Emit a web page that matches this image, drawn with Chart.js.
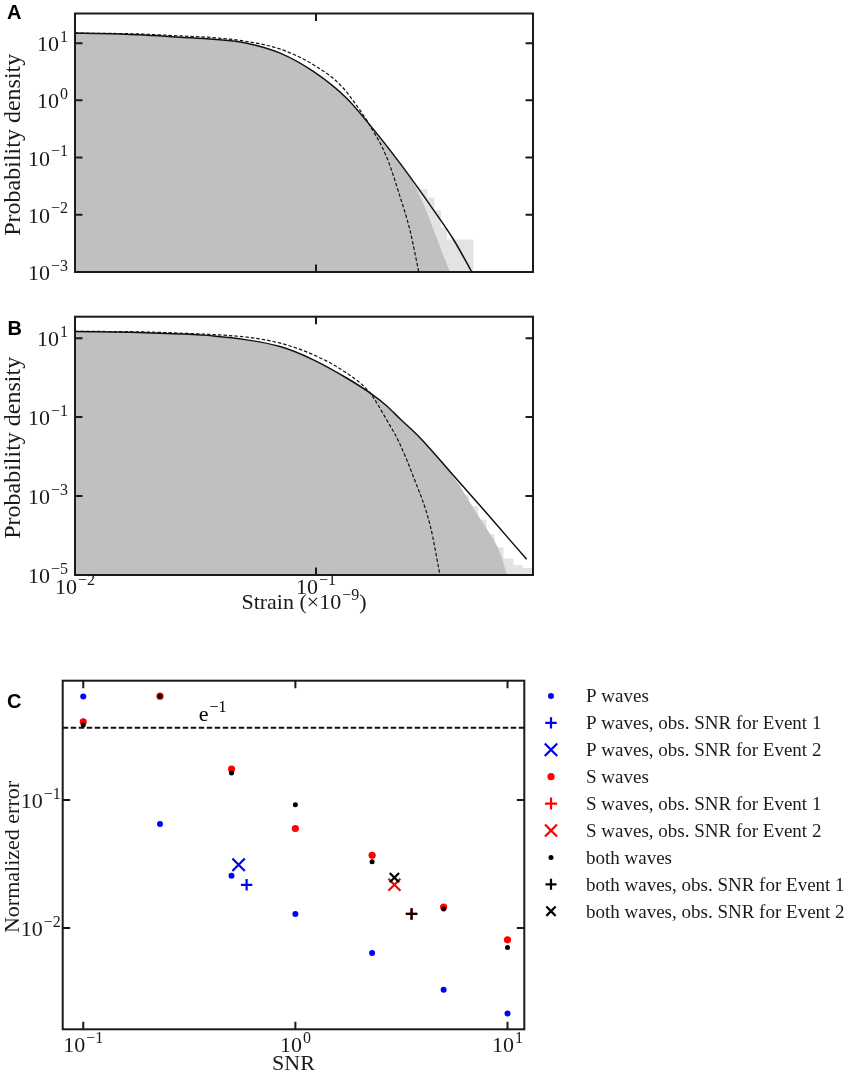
<!DOCTYPE html>
<html>
<head>
<meta charset="utf-8">
<title>Strain densities and normalized error</title>
<script src="https://cdn.jsdelivr.net/npm/chart.js@4/dist/chart.umd.min.js"></script>
<style>
  body { margin: 0; background: #fff; width: 851px; height: 1073px; position: relative; overflow: hidden; }
  canvas { position: absolute; left: 0; }
  #chartA { top: 0; }
  #chartB { top: 300px; }
  #chartC { top: 640px; }
</style>
</head>
<body>
<canvas id="chartA" width="560" height="300" style="width:560px;height:300px"></canvas>
<canvas id="chartB" width="560" height="340" style="width:560px;height:340px"></canvas>
<canvas id="chartC" width="851" height="433" style="width:851px;height:433px"></canvas>
<script>
// ---- panel A : histogram + fits ----
const histA_x  = [0.01, 0.0182, 0.0273, 0.0375, 0.0516, 0.071, 0.0975, 0.134, 0.165, 0.20, 0.223, 0.25, 0.28, 0.31, 0.34, 0.36];
const histA_y  = [15, 14, 12.6, 11.6, 9.9, 6.6, 3.15, 1.07, 0.39, 0.15, 0.08, 0.04, 0.015, 0.005, 0.0018, 0.001];
const tailA_x  = [0.17, 0.19, 0.21, 0.23, 0.25, 0.27, 0.29, 0.31, 0.33, 0.35, 0.37, 0.41, 0.45, 0.47];
const tailA_y  = [0.3, 0.17, 0.1, 0.06, 0.045, 0.032, 0.028, 0.02, 0.012, 0.006, 0.0037, 0.0037, 0.0037, 0.001];
const solidA_x = [0.01, 0.0182, 0.0273, 0.0375, 0.0516, 0.071, 0.0975, 0.134, 0.165, 0.223, 0.307, 0.372, 0.443];
const solidA_y = [15, 14, 12.7, 11.7, 10, 6.7, 3.2, 1.09, 0.40, 0.08, 0.0122, 0.0037, 0.001];
const dashA_x  = [0.01, 0.0182, 0.0273, 0.0375, 0.0516, 0.071, 0.0975, 0.126, 0.152, 0.165, 0.196, 0.223, 0.245, 0.267];
const dashA_y  = [15, 14.5, 13.4, 12.5, 10.7, 7.9, 4.2, 1.87, 0.68, 0.40, 0.104, 0.021, 0.0055, 0.001];
const yExpA = [1, 0, -1, -2, -3];

// ---- panel B ----
const histB_x  = [0.01, 0.0273, 0.0516, 0.071, 0.0975, 0.134, 0.1675, 0.195, 0.223, 0.27, 0.372, 0.45, 0.51, 0.58, 0.62];
const histB_y  = [14.5, 12.6, 8.9, 6.0, 2.78, 0.96, 0.40, 0.19, 0.088, 0.029, 0.0031, 5e-4, 1.5e-4, 3.7e-5, 1e-5];
const tailB_x  = [0.37, 0.40, 0.43, 0.47, 0.51, 0.55, 0.60, 0.66, 0.72, 0.79, 0.795];
const tailB_y  = [0.0031, 0.002, 0.0011, 5.5e-4, 2.5e-4, 1.1e-4, 5e-5, 2.6e-5, 1.8e-5, 1.5e-5, 1.5e-5];
const solidB_x = [0.01, 0.0182, 0.0273, 0.0375, 0.0516, 0.071, 0.0975, 0.134, 0.1675, 0.195, 0.223, 0.27, 0.372, 0.51, 0.748];
const solidB_y = [14.7, 14, 12.8, 11.4, 9.06, 6.13, 2.83, 0.98, 0.41, 0.20, 0.091, 0.030, 0.0033, 3.7e-4, 2.5e-5];
const dashB_x  = [0.01, 0.0182, 0.0273, 0.0375, 0.0516, 0.071, 0.0975, 0.134, 0.1675, 0.196, 0.220, 0.253, 0.298, 0.327];
const dashB_y  = [14.9, 14.5, 13.4, 12.3, 10.6, 7.5, 3.8, 1.31, 0.41, 0.087, 0.0245, 0.0032, 1.75e-4, 1e-5];
const yExpB = [1, -1, -3, -5];
const strainExp = [-2, -1];

// ---- panel C : normalized error vs SNR ----
const snr      = [0.1, 0.23, 0.5, 1, 2.3, 5, 10];
const pErr     = [0.644, 0.065, 0.0257, 0.0129, 0.0064, 0.0033, 0.00215];
const sErr     = [0.409, 0.649, 0.175, 0.060, 0.0371, 0.0146, 0.0081];
const bothErr  = [0.387, 0.649, 0.163, 0.092, 0.033, 0.0141, 0.00705];
const pEvent1  = [0.589, 0.0218];
const pEvent2  = [0.54, 0.0313];
const sEvent1  = [3.53, 0.0129];
const sEvent2  = [2.93, 0.0218];
const bothEvent1 = [3.53, 0.0129];
const bothEvent2 = [2.93, 0.0248];
const eInv = 0.368;
const snrExp = [-1, 0, 1];
const errExp = [-1, -2];
const snrMin = 0.08, snrMax = 12.0;

const SERIF = '"Liberation Serif", "DejaVu Serif", serif';
const INK = '#1a1a1a';

function pts(xs, ys) { return xs.map((x, i) => ({ x: x, y: ys[i] })); }

// parts alternate normal / superscript
function drawRich(ctx, parts, x, y, size, align) {
  const supSize = Math.round(size * 0.72);
  const widths = parts.map((t, i) => {
    ctx.font = (i % 2 ? supSize : size) + 'px ' + SERIF;
    return ctx.measureText(t).width + (i % 2 ? 1 : 0);
  });
  const total = widths.reduce((s, w) => s + w, 0);
  let cx = align === 'center' ? x - total / 2 : align === 'right' ? x - total : x;
  ctx.textAlign = 'left';
  parts.forEach((t, i) => {
    ctx.font = (i % 2 ? supSize : size) + 'px ' + SERIF;
    ctx.fillText(t, cx + (i % 2 ? 1 : 0), i % 2 ? y - size * 0.43 : y);
    cx += widths[i];
  });
}
function pow10(e) { return ['10', e < 0 ? '\u2212' + (-e) : String(e)]; }

// box, inward ticks, tex-like labels
const texFrame = {
  id: 'texFrame',
  afterDraw(chart, args, o) {
    const ctx = chart.ctx, a = chart.chartArea;
    const sx = chart.scales.x, sy = chart.scales.y;
    ctx.save();
    ctx.strokeStyle = INK;
    ctx.fillStyle = INK;
    ctx.lineWidth = 2;
    ctx.strokeRect(a.left, a.top, a.right - a.left, a.bottom - a.top);
    ctx.beginPath();
    o.xExp.forEach(e => {
      const px = sx.getPixelForValue(Math.pow(10, e));
      ctx.moveTo(px, a.bottom); ctx.lineTo(px, a.bottom - 7.5);
      ctx.moveTo(px, a.top); ctx.lineTo(px, a.top + 7.5);
    });
    o.yExp.forEach(e => {
      const py = sy.getPixelForValue(Math.pow(10, e));
      ctx.moveTo(a.left, py); ctx.lineTo(a.left + 7.5, py);
      ctx.moveTo(a.right, py); ctx.lineTo(a.right - 7.5, py);
    });
    ctx.stroke();
    ctx.textBaseline = 'alphabetic';
    if (o.xLabels) {
      o.xExp.forEach(e => drawRich(ctx, pow10(e), sx.getPixelForValue(Math.pow(10, e)), a.bottom + o.xLabelDy, 22, 'center'));
    }
    o.yExp.forEach(e => drawRich(ctx, pow10(e), a.left - o.yGap, sy.getPixelForValue(Math.pow(10, e)) + 8, 22, 'right'));
    if (o.xTitle) drawRich(ctx, o.xTitle, (a.left + a.right) / 2, a.bottom + o.xTitleDy, 22, 'center');
    ctx.save();
    ctx.translate(o.yTitleX, (a.top + a.bottom) / 2 + 2);
    ctx.rotate(-Math.PI / 2);
    drawRich(ctx, [o.yTitle], 0, 0, o.yTitleSize, 'center');
    ctx.restore();
    ctx.fillStyle = '#000';
    ctx.textAlign = 'left';
    ctx.font = 'bold 20px "Liberation Sans", Arial, sans-serif';
    ctx.fillText(o.letter, o.letterX, o.letterY);
    if (o.note) {
      drawRich(ctx, o.note.parts, sx.getPixelForValue(o.note.x), sy.getPixelForValue(o.note.y) - 6.5, 22, 'left');
    }
    ctx.restore();
  }
};

// legend to the right of panel C
const sideLegend = {
  id: 'sideLegend',
  afterDraw(chart, args, o) {
    const ctx = chart.ctx;
    ctx.save();
    let row = 0;
    chart.data.datasets.forEach(ds => {
      if (!ds.label) return;
      const y = o.y0 + row * o.step;
      ctx.fillStyle = ds.pointBackgroundColor;
      ctx.strokeStyle = ds.pointBorderColor;
      ctx.lineWidth = ds.pointBorderWidth;
      Chart.helpers.drawPoint(ctx, {
        pointStyle: ds.pointStyle, radius: ds.pointRadius,
        borderWidth: ds.pointBorderWidth, rotation: 0
      }, o.x, y);
      ctx.fillStyle = INK;
      ctx.font = '19px ' + SERIF;
      ctx.textAlign = 'left';
      ctx.textBaseline = 'alphabetic';
      ctx.fillText(ds.label, o.textX, y + 6.3);
      row++;
    });
    ctx.restore();
  }
};

function densityChart(id, hist, tail, solid, dash, yMin, yMax, pad, frame) {
  return new Chart(document.getElementById(id), {
    type: 'line',
    data: {
      datasets: [
        { data: dash, borderColor: '#111', borderWidth: 1.2, borderDash: [3.5, 2], pointRadius: 0,
          fill: false, cubicInterpolationMode: 'monotone', order: 0 },
        { data: solid, borderColor: '#111', borderWidth: 1.5, pointRadius: 0,
          fill: false, cubicInterpolationMode: 'monotone', order: 1 },
        { data: hist, borderWidth: 0, pointRadius: 0, backgroundColor: '#c0c0c0',
          fill: 'start', cubicInterpolationMode: 'monotone', order: 2 },
        { data: tail, borderWidth: 0, pointRadius: 0, backgroundColor: 'rgba(192,192,192,0.45)',
          fill: 'start', stepped: 'after', order: 3 }
      ]
    },
    options: {
      responsive: false,
      animation: false,
      events: [],
      layout: { padding: pad },
      scales: {
        x: { type: 'logarithmic', min: 0.01, max: 0.795, display: false },
        y: { type: 'logarithmic', min: yMin, max: yMax, display: false }
      },
      plugins: { legend: { display: false }, tooltip: { enabled: false }, texFrame: frame }
    },
    plugins: [texFrame]
  });
}

densityChart('chartA',
  pts(histA_x, histA_y), pts(tailA_x, tailA_y), pts(solidA_x, solidA_y), pts(dashA_x, dashA_y),
  0.001, 33, { left: 75, right: 27, top: 13.5, bottom: 28 },
  { xExp: strainExp, yExp: yExpA, xLabels: false, yGap: 7, yTitle: 'Probability density',
    yTitleSize: 24, yTitleX: 19.5, letter: 'A', letterX: 7, letterY: 18.5 });

densityChart('chartB',
  pts(histB_x, histB_y), pts(tailB_x, tailB_y), pts(solidB_x, solidB_y), pts(dashB_x, dashB_y),
  1e-5, 35, { left: 75, right: 27, top: 16.7, bottom: 65 },
  { xExp: strainExp, yExp: yExpB, xLabels: true, xLabelDy: 19, yGap: 7, yTitle: 'Probability density',
    yTitleSize: 24, yTitleX: 19.5, letter: 'B', letterX: 7.5, letterY: 35,
    xTitle: ['Strain (\u00d710', '\u22129', ')'], xTitleDy: 34 });

function dots(label, xs, ys, color, r, order) {
  return { label: label, data: pts(xs, ys), pointStyle: 'circle', pointRadius: r,
    pointBackgroundColor: color, pointBorderColor: color, pointBorderWidth: 0, order: order };
}
function mark(label, p, style, color, r, order) {
  return { label: label, data: [{ x: p[0], y: p[1] }], pointStyle: style, pointRadius: r,
    pointBackgroundColor: color, pointBorderColor: color, pointBorderWidth: 2.2, order: order };
}

new Chart(document.getElementById('chartC'), {
  type: 'scatter',
  data: {
    datasets: [
      dots('P waves', snr, pErr, '#0000ff', 3, 3),
      mark('P waves, obs. SNR for Event 1', pEvent1, 'cross', '#0000ff', 5.7, 3),
      mark('P waves, obs. SNR for Event 2', pEvent2, 'crossRot', '#0000ff', 8.8, 3),
      dots('S waves', snr, sErr, '#ff0000', 3.6, 2),
      mark('S waves, obs. SNR for Event 1', sEvent1, 'cross', '#ff0000', 6, 2),
      mark('S waves, obs. SNR for Event 2', sEvent2, 'crossRot', '#ff0000', 8.5, 2),
      dots('both waves', snr, bothErr, '#000000', 2.5, 1),
      mark('both waves, obs. SNR for Event 1', bothEvent1, 'cross', '#000000', 5.5, 1),
      mark('both waves, obs. SNR for Event 2', bothEvent2, 'crossRot', '#000000', 6.6, 1),
      { data: [{ x: snrMin, y: eInv }, { x: snrMax, y: eInv }], showLine: true, pointRadius: 0,
        borderColor: '#111', borderWidth: 2, borderDash: [5.5, 2.5], order: 4 }
    ]
  },
  options: {
    responsive: false,
    animation: false,
    events: [],
    layout: { padding: { left: 62.7, right: 326.7, top: 40.7, bottom: 43.7 } },
    scales: {
      x: { type: 'logarithmic', min: snrMin, max: snrMax, display: false },
      y: { type: 'logarithmic', min: 0.00162, max: 0.857, display: false }
    },
    plugins: {
      legend: { display: false },
      tooltip: { enabled: false },
      texFrame: { xExp: snrExp, yExp: errExp, xLabels: true, xLabelDy: 23, yGap: 2, yTitle: 'Normalized error',
        yTitleSize: 22, yTitleX: 18.5, letter: 'C', letterX: 7, letterY: 68,
        xTitle: ['SNR'], xTitleDy: 40.7, note: { parts: ['e', '\u22121'], x: 0.35, y: eInv } },
      sideLegend: { x: 551, textX: 586, y0: 56, step: 26.9 }
    }
  },
  plugins: [texFrame, sideLegend]
});
</script>
</body>
</html>
